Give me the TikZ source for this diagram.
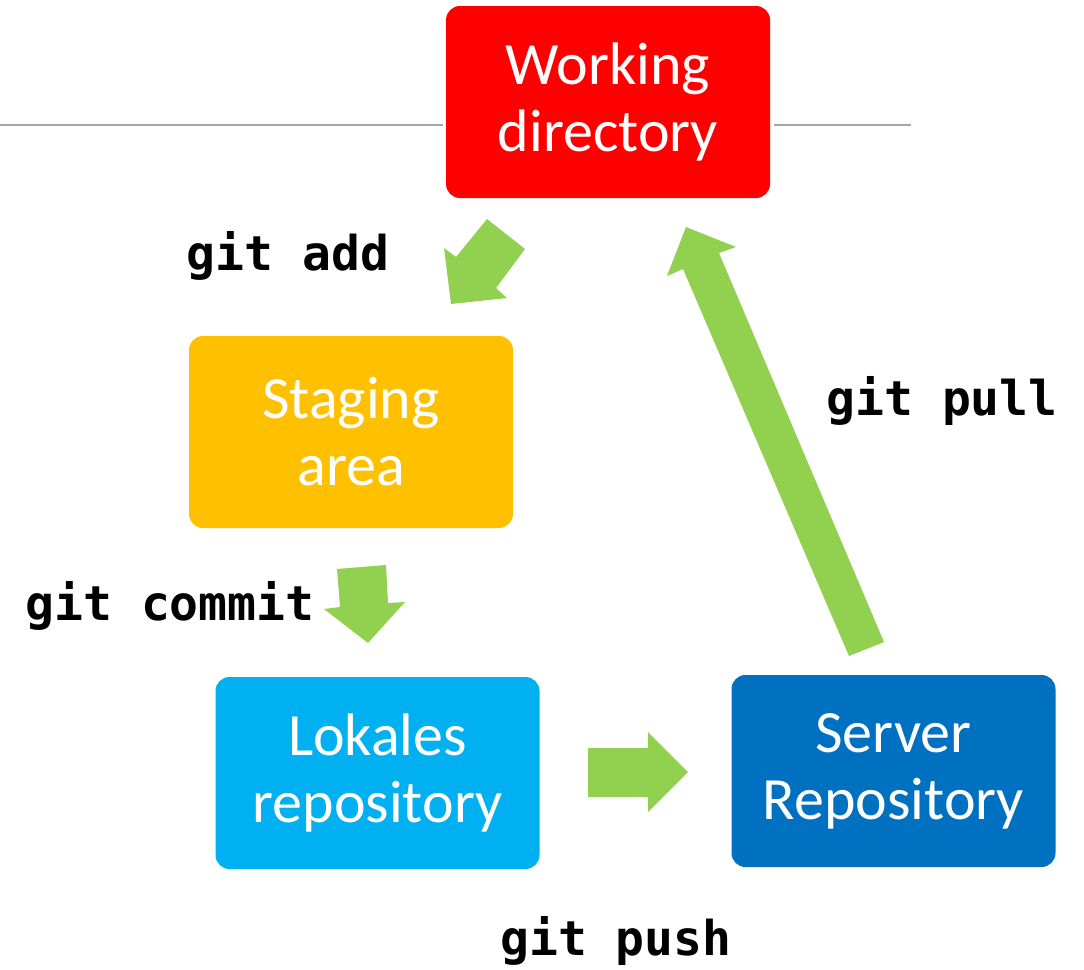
\documentclass[tikz,border=0pt]{standalone}
\usepackage{fontspec}
\newfontfamily\boxfont{Carlito}
\newfontfamily\cmdfont{DejaVu Sans Mono}
\definecolor{wdred}{HTML}{FF0000}
\definecolor{stageorange}{HTML}{FFC000}
\definecolor{localblue}{HTML}{00B0F0}
\definecolor{serverblue}{HTML}{0070C0}
\definecolor{arrowgreen}{HTML}{92D050}
\definecolor{rulegray}{HTML}{A6A6A6}
\tikzset{
  areabox/.style={rectangle, rounded corners=14pt, minimum width=324pt,
    minimum height=192pt, inner sep=0pt, text=white, align=center,
    font={\boxfont\fontsize{60}{67}\selectfont}},
  cmdlabel/.style={anchor=base, inner sep=0pt,
    font={\cmdfont\bfseries\fontsize{48}{56}\selectfont}},
  blockarrow/.style={fill=arrowgreen, draw=none}
}
\begin{document}
\begin{tikzpicture}[x=1pt, y=-1pt]
  \useasboundingbox (0,0) rectangle (1084,969);

  % the four areas
  \node[areabox, fill=wdred]       (wd)     at (608,102)   {Working\\directory};
  \node[areabox, fill=stageorange] (stage)  at (351,432)   {Staging\\area};
  \node[areabox, fill=localblue]   (local)  at (377.5,773) {Lokales\\repository};
  \node[areabox, fill=serverblue]  (server) at (893.5,771) {Server\\Repository};

  % horizontal rule behind the working directory
  \coordinate (ruleL) at (0,125);
  \coordinate (ruleR) at (911,125);
  \draw[rulegray, line width=2pt] (ruleL) -- ([xshift=-3pt]wd.west |- ruleL);
  \draw[rulegray, line width=2pt] ([xshift=4pt]wd.east |- ruleR) -- (ruleR);

  % block arrows
  \fill[blockarrow] (487,219) -- (525,249) -- (496,288) -- (507,298)
    -- (451,304) -- (444,248) -- (456,257) -- cycle;
  \fill[blockarrow] (337,569) -- (386,565) -- (388,603) -- (405,602)
    -- (368,643) -- (324,609) -- (340,607) -- cycle;
  \fill[blockarrow] (588,748) -- (648,748) -- (648,732) -- (688,772)
    -- (648,812) -- (648,797) -- (588,797) -- cycle;
  \fill[blockarrow] (849,656) -- (884,642) -- (719,253) -- (736,247)
    -- (686,227) -- (667,276) -- (683,269) -- cycle;

  % git commands
  \node[cmdlabel] (add)    at (288,270) {git add};
  \node[cmdlabel] (commit) at (170,620) {git commit};
  \node[cmdlabel] (push)   at (616,955) {git push};
  \node[cmdlabel] (pull)   at (942,415) {git pull};
\end{tikzpicture}
\end{document}
